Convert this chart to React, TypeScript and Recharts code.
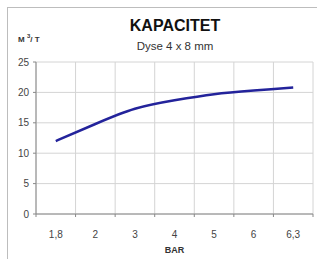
import React from 'react';
import { LineChart, Line, XAxis, YAxis, CartesianGrid } from 'recharts';

const categories = ['1,8', '2', '3', '4', '5', '6', '6,3'];
const capacity = [12, 14.8, 17.3, 18.7, 19.7, 20.3, 20.8];
const yTicks = [0, 5, 10, 15, 20, 25];

const data = categories.map((bar, i) => ({ bar, capacity: capacity[i] }));

const W = 317;
const H = 259;
const margin = { top: 62, right: 4, bottom: 25, left: 6 };
const Y_AXIS_W = 30;
const X_AXIS_H = 20;
const PLOT_LEFT = margin.left + Y_AXIS_W;
const PLOT_W = W - PLOT_LEFT - margin.right;
const PLOT_BOTTOM = H - margin.bottom - X_AXIS_H;
const BAND = PLOT_W / categories.length;

const font = '"Liberation Sans", Arial, sans-serif';

function XTick(props: any) {
  const { x, payload, index } = props;
  const left = x - BAND / 2;
  return (
    <g>
      <line x1={left} x2={left} y1={PLOT_BOTTOM} y2={PLOT_BOTTOM + 3} stroke="#888" />
      {index === categories.length - 1 && (
        <line x1={x + BAND / 2} x2={x + BAND / 2} y1={PLOT_BOTTOM} y2={PLOT_BOTTOM + 3} stroke="#888" />
      )}
      <text x={x} y={PLOT_BOTTOM + 24} textAnchor="middle" fontSize={10} fill="#444" fontFamily={font}>
        {payload.value}
      </text>
    </g>
  );
}

export default function App() {
  return (
    <div style={{ position: 'absolute', left: 0, top: 0, width: W, height: H, overflow: 'hidden', background: '#fff', fontFamily: font }}>
      <div style={{ position: 'absolute', left: 7, top: 7, width: 320, height: 260, border: '1px solid #bdbdbd' }} />
      <div style={{ position: 'absolute', left: 0, width: 350, top: 17, textAlign: 'center', fontSize: 16, fontWeight: 'bold', color: '#111' }}>
        KAPACITET
      </div>
      <div style={{ position: 'absolute', left: 0, width: 350, top: 40, textAlign: 'center', fontSize: 11.5, color: '#333' }}>
        Dyse 4 x 8 mm
      </div>
      <div style={{ position: 'absolute', left: 18, top: 33, fontSize: 8, fontWeight: 'bold', color: '#333', whiteSpace: 'pre' }}>
        M <span style={{ fontSize: 6, verticalAlign: 'super' }}>3</span>/ T
      </div>
      <div style={{ position: 'absolute', left: PLOT_LEFT, width: PLOT_W, top: 245, textAlign: 'center', fontSize: 9, fontWeight: 'bold', color: '#333' }}>
        BAR
      </div>
      <div style={{ position: 'absolute', left: 0, top: 0 }}>
        <LineChart width={W} height={H} data={data} margin={margin}>
          <CartesianGrid
            stroke="#d4d4d4"
            verticalCoordinatesGenerator={(args: any) => {
              const left = args?.offset?.left ?? PLOT_LEFT;
              const width = args?.offset?.width ?? PLOT_W;
              return categories.map((_, i) => left + (i * width) / categories.length).concat(left + width);
            }}
          />
          <XAxis
            dataKey="bar"
            scale="band"
            height={X_AXIS_H}
            interval={0}
            axisLine={{ stroke: '#888' }}
            tickLine={false}
            tick={<XTick />}
          />
          <YAxis
            domain={[0, 25]}
            ticks={yTicks}
            width={Y_AXIS_W}
            tickSize={3}
            tickMargin={4}
            axisLine={{ stroke: '#888' }}
            tickLine={{ stroke: '#888' }}
            tick={{ fontSize: 10, fill: '#444', fontFamily: font }}
          />
          <Line
            type="natural"
            dataKey="capacity"
            stroke="#23239b"
            strokeWidth={2.5}
            dot={false}
            isAnimationActive={false}
          />
        </LineChart>
      </div>
    </div>
  );
}
